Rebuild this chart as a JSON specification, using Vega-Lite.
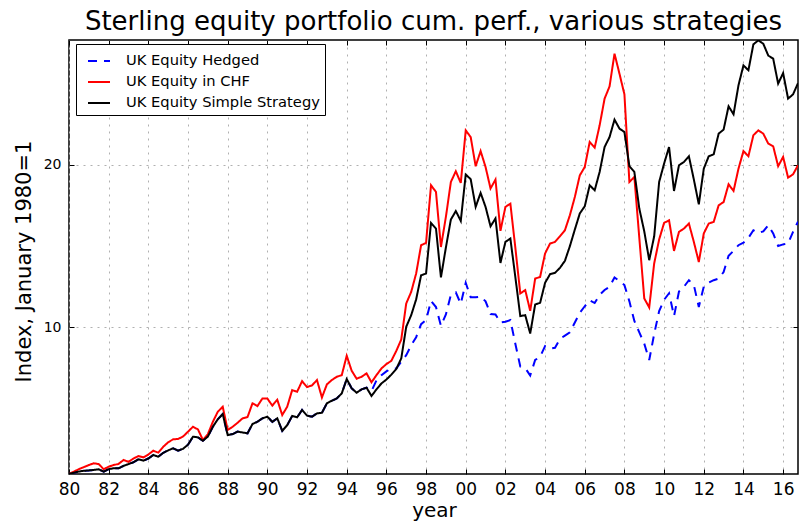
{
"$schema": "https://vega.github.io/schema/vega-lite/v6.json",
"width": 729, "height": 434,
"autosize": {"type": "none"},
"padding": {"left": 69, "top": 40, "right": 2, "bottom": 57},
"background": "white",
"title": {"text": "Sterling equity portfolio cum. perf., various strategies", "fontSize": 26, "fontWeight": "normal", "font": "DejaVu Sans", "color": "black", "anchor": "middle", "baseline": "alphabetic", "offset": 10, "dy": 26},
"config": {"view": {"stroke": "black", "strokeWidth": 1.5}, "font": "DejaVu Sans"},
"datasets": {"perf": [
{"t":1980,"s":"h","v":1.0},{"t":1980.25,"s":"h","v":1.08},{"t":1980.5,"s":"h","v":1.15},{"t":1980.75,"s":"h","v":1.2},
{"t":1981,"s":"h","v":1.22},{"t":1981.25,"s":"h","v":1.25},{"t":1981.5,"s":"h","v":1.29},{"t":1981.75,"s":"h","v":1.14},
{"t":1982,"s":"h","v":1.3},{"t":1982.25,"s":"h","v":1.35},{"t":1982.5,"s":"h","v":1.35},{"t":1982.75,"s":"h","v":1.5},
{"t":1983,"s":"h","v":1.61},{"t":1983.25,"s":"h","v":1.72},{"t":1983.5,"s":"h","v":1.9},{"t":1983.75,"s":"h","v":1.82},
{"t":1984,"s":"h","v":1.95},{"t":1984.25,"s":"h","v":2.17},{"t":1984.5,"s":"h","v":2.06},{"t":1984.75,"s":"h","v":2.3},
{"t":1985,"s":"h","v":2.45},{"t":1985.25,"s":"h","v":2.58},{"t":1985.5,"s":"h","v":2.43},{"t":1985.75,"s":"h","v":2.55},
{"t":1986,"s":"h","v":2.8},{"t":1986.25,"s":"h","v":3.29},{"t":1986.5,"s":"h","v":3.25},{"t":1986.75,"s":"h","v":3.04},
{"t":1987,"s":"h","v":3.3},{"t":1987.25,"s":"h","v":3.9},{"t":1987.5,"s":"h","v":4.36},{"t":1987.75,"s":"h","v":4.68},
{"t":1988,"s":"h","v":3.39},{"t":1988.25,"s":"h","v":3.45},{"t":1988.5,"s":"h","v":3.6},{"t":1988.75,"s":"h","v":3.55},
{"t":1989,"s":"h","v":3.5},{"t":1989.25,"s":"h","v":4.07},{"t":1989.5,"s":"h","v":4.21},{"t":1989.75,"s":"h","v":4.42},
{"t":1990,"s":"h","v":4.52},{"t":1990.25,"s":"h","v":4.2},{"t":1990.5,"s":"h","v":4.42},{"t":1990.75,"s":"h","v":3.65},
{"t":1991,"s":"h","v":4.0},{"t":1991.25,"s":"h","v":4.56},{"t":1991.5,"s":"h","v":4.48},{"t":1991.75,"s":"h","v":4.93},
{"t":1992,"s":"h","v":4.58},{"t":1992.25,"s":"h","v":4.52},{"t":1992.5,"s":"h","v":4.72},{"t":1992.75,"s":"h","v":4.76},
{"t":1993,"s":"h","v":5.34},{"t":1993.25,"s":"h","v":5.5},{"t":1993.5,"s":"h","v":5.64},{"t":1993.75,"s":"h","v":5.95},
{"t":1994,"s":"h","v":6.83},{"t":1994.25,"s":"h","v":6.26},{"t":1994.5,"s":"h","v":5.99},{"t":1994.75,"s":"h","v":6.2},
{"t":1995,"s":"h","v":6.3},{"t":1995.25,"s":"h","v":6.1},{"t":1995.5,"s":"h","v":6.75},{"t":1995.75,"s":"h","v":7.07},
{"t":1996,"s":"h","v":7.3},{"t":1996.25,"s":"h","v":7.48},{"t":1996.5,"s":"h","v":7.48},{"t":1996.75,"s":"h","v":7.9},
{"t":1997,"s":"h","v":8.3},{"t":1997.25,"s":"h","v":8.9},{"t":1997.5,"s":"h","v":9.4},{"t":1997.75,"s":"h","v":10.2},
{"t":1998,"s":"h","v":10.45},{"t":1998.25,"s":"h","v":11.63},{"t":1998.5,"s":"h","v":11.25},{"t":1998.75,"s":"h","v":10.1},
{"t":1999,"s":"h","v":10.8},{"t":1999.25,"s":"h","v":12.0},{"t":1999.5,"s":"h","v":12.15},{"t":1999.75,"s":"h","v":11.45},
{"t":2000,"s":"h","v":12.74},{"t":2000.25,"s":"h","v":11.85},{"t":2000.5,"s":"h","v":11.85},{"t":2000.75,"s":"h","v":11.9},
{"t":2001,"s":"h","v":11.6},{"t":2001.25,"s":"h","v":10.82},{"t":2001.5,"s":"h","v":10.8},{"t":2001.75,"s":"h","v":10.3},
{"t":2002,"s":"h","v":10.35},{"t":2002.25,"s":"h","v":10.45},{"t":2002.5,"s":"h","v":9.0},{"t":2002.75,"s":"h","v":7.6},
{"t":2003,"s":"h","v":7.5},{"t":2003.25,"s":"h","v":7.05},{"t":2003.5,"s":"h","v":8.0},{"t":2003.75,"s":"h","v":8.2},
{"t":2004,"s":"h","v":8.85},{"t":2004.25,"s":"h","v":8.7},{"t":2004.5,"s":"h","v":8.75},{"t":2004.75,"s":"h","v":9.3},
{"t":2005,"s":"h","v":9.5},{"t":2005.25,"s":"h","v":9.7},{"t":2005.5,"s":"h","v":10.3},{"t":2005.75,"s":"h","v":10.9},
{"t":2006,"s":"h","v":11.3},{"t":2006.25,"s":"h","v":11.67},{"t":2006.5,"s":"h","v":11.5},{"t":2006.75,"s":"h","v":12.0},
{"t":2007,"s":"h","v":12.3},{"t":2007.25,"s":"h","v":12.5},{"t":2007.5,"s":"h","v":13.07},{"t":2007.75,"s":"h","v":12.85},
{"t":2008,"s":"h","v":12.6},{"t":2008.25,"s":"h","v":11.6},{"t":2008.5,"s":"h","v":10.4},{"t":2008.75,"s":"h","v":9.7},
{"t":2009,"s":"h","v":9.0},{"t":2009.25,"s":"h","v":8.0},{"t":2009.5,"s":"h","v":9.6},{"t":2009.75,"s":"h","v":11.0},
{"t":2010,"s":"h","v":11.7},{"t":2010.25,"s":"h","v":12.1},{"t":2010.5,"s":"h","v":10.7},{"t":2010.75,"s":"h","v":12.2},
{"t":2011,"s":"h","v":12.5},{"t":2011.25,"s":"h","v":12.9},{"t":2011.5,"s":"h","v":12.6},{"t":2011.75,"s":"h","v":11.26},
{"t":2012,"s":"h","v":12.5},{"t":2012.25,"s":"h","v":12.75},{"t":2012.5,"s":"h","v":12.9},{"t":2012.75,"s":"h","v":13.0},
{"t":2013,"s":"h","v":13.4},{"t":2013.25,"s":"h","v":14.4},{"t":2013.5,"s":"h","v":14.7},{"t":2013.75,"s":"h","v":15.05},
{"t":2014,"s":"h","v":15.2},{"t":2014.25,"s":"h","v":15.5},{"t":2014.5,"s":"h","v":15.97},{"t":2014.75,"s":"h","v":15.8},
{"t":2015,"s":"h","v":15.9},{"t":2015.25,"s":"h","v":16.28},{"t":2015.5,"s":"h","v":15.77},{"t":2015.75,"s":"h","v":15.0},
{"t":2016,"s":"h","v":15.1},{"t":2016.25,"s":"h","v":15.15},{"t":2016.5,"s":"h","v":15.87},{"t":2016.75,"s":"h","v":16.5},

{"t":1980,"s":"c","v":1.0},{"t":1980.25,"s":"c","v":1.15},{"t":1980.5,"s":"c","v":1.3},{"t":1980.75,"s":"c","v":1.42},
{"t":1981,"s":"c","v":1.55},{"t":1981.25,"s":"c","v":1.66},{"t":1981.5,"s":"c","v":1.61},{"t":1981.75,"s":"c","v":1.29},
{"t":1982,"s":"c","v":1.45},{"t":1982.25,"s":"c","v":1.55},{"t":1982.5,"s":"c","v":1.62},{"t":1982.75,"s":"c","v":1.86},
{"t":1983,"s":"c","v":1.75},{"t":1983.25,"s":"c","v":1.95},{"t":1983.5,"s":"c","v":2.1},{"t":1983.75,"s":"c","v":2.02},
{"t":1984,"s":"c","v":2.2},{"t":1984.25,"s":"c","v":2.43},{"t":1984.5,"s":"c","v":2.31},{"t":1984.75,"s":"c","v":2.67},
{"t":1985,"s":"c","v":2.95},{"t":1985.25,"s":"c","v":3.13},{"t":1985.5,"s":"c","v":3.15},{"t":1985.75,"s":"c","v":3.3},
{"t":1986,"s":"c","v":3.6},{"t":1986.25,"s":"c","v":3.9},{"t":1986.5,"s":"c","v":3.74},{"t":1986.75,"s":"c","v":3.09},
{"t":1987,"s":"c","v":3.45},{"t":1987.25,"s":"c","v":4.2},{"t":1987.5,"s":"c","v":4.82},{"t":1987.75,"s":"c","v":5.13},
{"t":1988,"s":"c","v":3.7},{"t":1988.25,"s":"c","v":3.9},{"t":1988.5,"s":"c","v":4.15},{"t":1988.75,"s":"c","v":4.42},
{"t":1989,"s":"c","v":4.5},{"t":1989.25,"s":"c","v":5.34},{"t":1989.5,"s":"c","v":5.17},{"t":1989.75,"s":"c","v":5.64},
{"t":1990,"s":"c","v":5.63},{"t":1990.25,"s":"c","v":5.2},{"t":1990.5,"s":"c","v":5.56},{"t":1990.75,"s":"c","v":4.62},
{"t":1991,"s":"c","v":5.13},{"t":1991.25,"s":"c","v":6.15},{"t":1991.5,"s":"c","v":6.05},{"t":1991.75,"s":"c","v":6.7},
{"t":1992,"s":"c","v":6.34},{"t":1992.25,"s":"c","v":6.44},{"t":1992.5,"s":"c","v":6.77},{"t":1992.75,"s":"c","v":5.7},
{"t":1993,"s":"c","v":6.5},{"t":1993.25,"s":"c","v":6.77},{"t":1993.5,"s":"c","v":6.97},{"t":1993.75,"s":"c","v":7.07},
{"t":1994,"s":"c","v":8.26},{"t":1994.25,"s":"c","v":7.34},{"t":1994.5,"s":"c","v":6.85},{"t":1994.75,"s":"c","v":6.97},
{"t":1995,"s":"c","v":7.18},{"t":1995.25,"s":"c","v":6.63},{"t":1995.5,"s":"c","v":7.07},{"t":1995.75,"s":"c","v":7.48},
{"t":1996,"s":"c","v":7.75},{"t":1996.25,"s":"c","v":7.95},{"t":1996.5,"s":"c","v":8.56},{"t":1996.75,"s":"c","v":9.26},
{"t":1997,"s":"c","v":11.47},{"t":1997.25,"s":"c","v":12.18},{"t":1997.5,"s":"c","v":13.31},{"t":1997.75,"s":"c","v":15.05},
{"t":1998,"s":"c","v":15.19},{"t":1998.25,"s":"c","v":18.73},{"t":1998.5,"s":"c","v":18.32},{"t":1998.75,"s":"c","v":14.94},
{"t":1999,"s":"c","v":16.79},{"t":1999.25,"s":"c","v":18.93},{"t":1999.5,"s":"c","v":19.59},{"t":1999.75,"s":"c","v":18.87},
{"t":2000,"s":"c","v":22.1},{"t":2000.25,"s":"c","v":21.69},{"t":2000.5,"s":"c","v":19.9},{"t":2000.75,"s":"c","v":20.83},
{"t":2001,"s":"c","v":19.85},{"t":2001.25,"s":"c","v":18.53},{"t":2001.5,"s":"c","v":19.08},{"t":2001.75,"s":"c","v":15.93},
{"t":2002,"s":"c","v":17.4},{"t":2002.25,"s":"c","v":17.6},{"t":2002.5,"s":"c","v":14.9},{"t":2002.75,"s":"c","v":12.09},
{"t":2003,"s":"c","v":12.29},{"t":2003.25,"s":"c","v":11.02},{"t":2003.5,"s":"c","v":13.0},{"t":2003.75,"s":"c","v":13.1},
{"t":2004,"s":"c","v":14.54},{"t":2004.25,"s":"c","v":15.15},{"t":2004.5,"s":"c","v":15.25},{"t":2004.75,"s":"c","v":15.6},
{"t":2005,"s":"c","v":15.97},{"t":2005.25,"s":"c","v":16.89},{"t":2005.5,"s":"c","v":18.01},{"t":2005.75,"s":"c","v":19.34},
{"t":2006,"s":"c","v":19.85},{"t":2006.25,"s":"c","v":21.39},{"t":2006.5,"s":"c","v":21.04},{"t":2006.75,"s":"c","v":22.41},
{"t":2007,"s":"c","v":24.05},{"t":2007.25,"s":"c","v":24.8},{"t":2007.5,"s":"c","v":26.81},{"t":2007.75,"s":"c","v":25.58},
{"t":2008,"s":"c","v":24.31},{"t":2008.25,"s":"c","v":18.93},{"t":2008.5,"s":"c","v":19.24},{"t":2008.75,"s":"c","v":15.5},
{"t":2009,"s":"c","v":11.78},{"t":2009.25,"s":"c","v":11.23},{"t":2009.5,"s":"c","v":13.93},{"t":2009.75,"s":"c","v":15.4},
{"t":2010,"s":"c","v":16.42},{"t":2010.25,"s":"c","v":16.58},{"t":2010.5,"s":"c","v":14.7},{"t":2010.75,"s":"c","v":15.87},
{"t":2011,"s":"c","v":16.07},{"t":2011.25,"s":"c","v":16.38},{"t":2011.5,"s":"c","v":15.25},{"t":2011.75,"s":"c","v":14.02},
{"t":2012,"s":"c","v":15.77},{"t":2012.25,"s":"c","v":16.38},{"t":2012.5,"s":"c","v":16.48},{"t":2012.75,"s":"c","v":17.5},
{"t":2013,"s":"c","v":17.7},{"t":2013.25,"s":"c","v":18.79},{"t":2013.5,"s":"c","v":18.38},{"t":2013.75,"s":"c","v":19.75},
{"t":2014,"s":"c","v":20.83},{"t":2014.25,"s":"c","v":20.51},{"t":2014.5,"s":"c","v":21.8},{"t":2014.75,"s":"c","v":22.1},
{"t":2015,"s":"c","v":21.9},{"t":2015.25,"s":"c","v":21.29},{"t":2015.5,"s":"c","v":21.12},{"t":2015.75,"s":"c","v":19.9},
{"t":2016,"s":"c","v":20.47},{"t":2016.25,"s":"c","v":19.2},{"t":2016.5,"s":"c","v":19.4},{"t":2016.75,"s":"c","v":19.96},

{"t":1980,"s":"s","v":1.0},{"t":1980.25,"s":"s","v":1.08},{"t":1980.5,"s":"s","v":1.15},{"t":1980.75,"s":"s","v":1.2},
{"t":1981,"s":"s","v":1.22},{"t":1981.25,"s":"s","v":1.25},{"t":1981.5,"s":"s","v":1.29},{"t":1981.75,"s":"s","v":1.14},
{"t":1982,"s":"s","v":1.3},{"t":1982.25,"s":"s","v":1.35},{"t":1982.5,"s":"s","v":1.35},{"t":1982.75,"s":"s","v":1.5},
{"t":1983,"s":"s","v":1.61},{"t":1983.25,"s":"s","v":1.72},{"t":1983.5,"s":"s","v":1.9},{"t":1983.75,"s":"s","v":1.82},
{"t":1984,"s":"s","v":1.95},{"t":1984.25,"s":"s","v":2.17},{"t":1984.5,"s":"s","v":2.06},{"t":1984.75,"s":"s","v":2.3},
{"t":1985,"s":"s","v":2.45},{"t":1985.25,"s":"s","v":2.58},{"t":1985.5,"s":"s","v":2.43},{"t":1985.75,"s":"s","v":2.55},
{"t":1986,"s":"s","v":2.8},{"t":1986.25,"s":"s","v":3.29},{"t":1986.5,"s":"s","v":3.25},{"t":1986.75,"s":"s","v":3.04},
{"t":1987,"s":"s","v":3.3},{"t":1987.25,"s":"s","v":3.9},{"t":1987.5,"s":"s","v":4.36},{"t":1987.75,"s":"s","v":4.68},
{"t":1988,"s":"s","v":3.39},{"t":1988.25,"s":"s","v":3.45},{"t":1988.5,"s":"s","v":3.6},{"t":1988.75,"s":"s","v":3.55},
{"t":1989,"s":"s","v":3.5},{"t":1989.25,"s":"s","v":4.07},{"t":1989.5,"s":"s","v":4.21},{"t":1989.75,"s":"s","v":4.42},
{"t":1990,"s":"s","v":4.52},{"t":1990.25,"s":"s","v":4.2},{"t":1990.5,"s":"s","v":4.42},{"t":1990.75,"s":"s","v":3.65},
{"t":1991,"s":"s","v":4.0},{"t":1991.25,"s":"s","v":4.56},{"t":1991.5,"s":"s","v":4.48},{"t":1991.75,"s":"s","v":4.93},
{"t":1992,"s":"s","v":4.58},{"t":1992.25,"s":"s","v":4.52},{"t":1992.5,"s":"s","v":4.72},{"t":1992.75,"s":"s","v":4.76},
{"t":1993,"s":"s","v":5.34},{"t":1993.25,"s":"s","v":5.5},{"t":1993.5,"s":"s","v":5.64},{"t":1993.75,"s":"s","v":5.95},
{"t":1994,"s":"s","v":6.83},{"t":1994.25,"s":"s","v":6.26},{"t":1994.5,"s":"s","v":5.99},{"t":1994.75,"s":"s","v":6.2},
{"t":1995,"s":"s","v":6.3},{"t":1995.25,"s":"s","v":5.79},{"t":1995.5,"s":"s","v":6.2},{"t":1995.75,"s":"s","v":6.56},
{"t":1996,"s":"s","v":6.8},{"t":1996.25,"s":"s","v":7.1},{"t":1996.5,"s":"s","v":7.45},{"t":1996.75,"s":"s","v":8.1},
{"t":1997,"s":"s","v":10.04},{"t":1997.25,"s":"s","v":10.75},{"t":1997.5,"s":"s","v":11.72},{"t":1997.75,"s":"s","v":13.2},
{"t":1998,"s":"s","v":13.31},{"t":1998.25,"s":"s","v":16.42},{"t":1998.5,"s":"s","v":16.07},{"t":1998.75,"s":"s","v":13.07},
{"t":1999,"s":"s","v":14.91},{"t":1999.25,"s":"s","v":16.62},{"t":1999.5,"s":"s","v":17.15},{"t":1999.75,"s":"s","v":16.54},
{"t":2000,"s":"s","v":19.39},{"t":2000.25,"s":"s","v":19.1},{"t":2000.5,"s":"s","v":17.4},{"t":2000.75,"s":"s","v":18.26},
{"t":2001,"s":"s","v":17.4},{"t":2001.25,"s":"s","v":16.21},{"t":2001.5,"s":"s","v":16.69},{"t":2001.75,"s":"s","v":13.96},
{"t":2002,"s":"s","v":15.25},{"t":2002.25,"s":"s","v":15.46},{"t":2002.5,"s":"s","v":13.1},{"t":2002.75,"s":"s","v":10.7},
{"t":2003,"s":"s","v":10.75},{"t":2003.25,"s":"s","v":9.63},{"t":2003.5,"s":"s","v":11.41},{"t":2003.75,"s":"s","v":11.51},
{"t":2004,"s":"s","v":12.74},{"t":2004.25,"s":"s","v":13.27},{"t":2004.5,"s":"s","v":13.35},{"t":2004.75,"s":"s","v":13.66},
{"t":2005,"s":"s","v":14.09},{"t":2005.25,"s":"s","v":14.99},{"t":2005.5,"s":"s","v":16.01},{"t":2005.75,"s":"s","v":17.0},
{"t":2006,"s":"s","v":17.44},{"t":2006.25,"s":"s","v":18.73},{"t":2006.5,"s":"s","v":18.42},{"t":2006.75,"s":"s","v":19.55},
{"t":2007,"s":"s","v":21.08},{"t":2007.25,"s":"s","v":21.69},{"t":2007.5,"s":"s","v":22.76},{"t":2007.75,"s":"s","v":22.21},
{"t":2008,"s":"s","v":22.0},{"t":2008.25,"s":"s","v":19.9},{"t":2008.5,"s":"s","v":19.55},{"t":2008.75,"s":"s","v":17.3},
{"t":2009,"s":"s","v":15.9},{"t":2009.25,"s":"s","v":14.13},{"t":2009.5,"s":"s","v":15.6},{"t":2009.75,"s":"s","v":18.93},
{"t":2010,"s":"s","v":20.06},{"t":2010.25,"s":"s","v":21.08},{"t":2010.5,"s":"s","v":18.38},{"t":2010.75,"s":"s","v":19.96},
{"t":2011,"s":"s","v":20.16},{"t":2011.25,"s":"s","v":20.51},{"t":2011.5,"s":"s","v":19.08},{"t":2011.75,"s":"s","v":17.56},
{"t":2012,"s":"s","v":19.75},{"t":2012.25,"s":"s","v":20.51},{"t":2012.5,"s":"s","v":20.63},{"t":2012.75,"s":"s","v":21.9},
{"t":2013,"s":"s","v":22.15},{"t":2013.25,"s":"s","v":23.58},{"t":2013.5,"s":"s","v":23.09},{"t":2013.75,"s":"s","v":24.87},
{"t":2014,"s":"s","v":26.09},{"t":2014.25,"s":"s","v":25.79},{"t":2014.5,"s":"s","v":27.38},{"t":2014.75,"s":"s","v":27.63},
{"t":2015,"s":"s","v":27.42},{"t":2015.25,"s":"s","v":26.7},{"t":2015.5,"s":"s","v":26.5},{"t":2015.75,"s":"s","v":24.97},
{"t":2016,"s":"s","v":25.62},{"t":2016.25,"s":"s","v":24.05},{"t":2016.5,"s":"s","v":24.31},{"t":2016.75,"s":"s","v":25.0}
]},
"data": {"name": "perf"},
"resolve": {"axis": {"x": "independent", "y": "independent"}},
"layer": [
{
"mark": {"type": "line", "strokeWidth": 2, "clip": true},
"encoding": {
"x": {"field": "t", "type": "quantitative",
 "scale": {"domain": [1980, 2016.75], "nice": false, "zero": false},
 "axis": {"orient": "bottom", "values": [1980,1982,1984,1986,1988,1990,1992,1994,1996,1998,2000,2002,2004,2006,2008,2010,2012,2014,2016],
  "labelExpr": "substring(toString(datum.value), 2, 4)", "labelFlush": false, "labelOverlap": false,
  "labelFontSize": 17, "labelFont": "DejaVu Sans", "labelColor": "black", "labelBaseline": "alphabetic", "labelPadding": 25,
  "tickSize": -5, "tickColor": "black", "tickWidth": 1, "domain": false,
  "grid": true, "gridColor": "#b0b0b0", "gridDash": [2, 5], "gridWidth": 1,
  "title": "year", "titleFontSize": 20, "titleFont": "DejaVu Sans", "titleFontWeight": "normal", "titleColor": "black",
  "titleBaseline": "alphabetic", "titleX": 365, "titleY": 42, "titleAlign": "center"}},
"y": {"field": "v", "type": "quantitative",
 "scale": {"domain": [1, 27.65], "nice": false, "zero": false},
 "axis": {"orient": "left", "values": [10, 20],
  "labelFontSize": 14, "labelFont": "DejaVu Sans", "labelColor": "black", "labelPadding": 13, "labelBaseline": "middle",
  "tickSize": -5, "tickColor": "black", "tickWidth": 1, "domain": false,
  "grid": true, "gridColor": "#b0b0b0", "gridDash": [2, 5], "gridWidth": 1,
  "title": "Index, January 1980=1", "titleFontSize": 21, "titleFont": "DejaVu Sans", "titleFontWeight": "normal", "titleColor": "black",
  "titleBaseline": "alphabetic", "titleAngle": 270, "titleX": -39, "titleY": 221, "titleAlign": "center"}},
"color": {"field": "s", "type": "nominal",
 "scale": {"domain": ["h", "c", "s"], "range": ["#0000ff", "#ff0000", "#000000"]},
 "legend": {"orient": "none", "legendX": 7, "legendY": 4, "title": null,
  "labelExpr": "datum.value == 'h' ? 'UK Equity Hedged' : datum.value == 'c' ? 'UK Equity in CHF' : 'UK Equity Simple Strategy'",
  "symbolType": "stroke", "symbolSize": 484, "symbolStrokeWidth": 2, "symbolOffset": 6,
  "labelFontSize": 14.7, "labelFont": "DejaVu Sans", "labelColor": "black", "labelLimit": 400,
  "strokeColor": "black", "fillColor": "white", "padding": 5, "rowPadding": 2, "labelOffset": 15, "cornerRadius": 0}},
"strokeDash": {"field": "s", "type": "nominal",
 "scale": {"domain": ["h", "c", "s"], "range": [[9, 7], [1, 0], [1, 0]]},
 "legend": {"orient": "none", "legendX": 7, "legendY": 4, "title": null,
  "labelExpr": "datum.value == 'h' ? 'UK Equity Hedged' : datum.value == 'c' ? 'UK Equity in CHF' : 'UK Equity Simple Strategy'",
  "symbolType": "stroke", "symbolSize": 484, "symbolStrokeWidth": 2, "symbolOffset": 6,
  "labelFontSize": 14.7, "labelFont": "DejaVu Sans", "labelColor": "black", "labelLimit": 400,
  "strokeColor": "black", "fillColor": "white", "padding": 5, "rowPadding": 2, "labelOffset": 15, "cornerRadius": 0}}
}
},
{
"mark": {"type": "line", "opacity": 0},
"encoding": {
"x": {"field": "t", "type": "quantitative",
 "axis": {"orient": "top", "values": [1980,1982,1984,1986,1988,1990,1992,1994,1996,1998,2000,2002,2004,2006,2008,2010,2012,2014,2016],
  "labels": false, "title": null, "grid": false, "domain": false, "tickSize": -5, "tickColor": "black", "tickWidth": 1}},
"y": {"field": "v", "type": "quantitative",
 "axis": {"orient": "right", "values": [10, 20],
  "labels": false, "title": null, "grid": false, "domain": false, "tickSize": -5, "tickColor": "black", "tickWidth": 1}},
"detail": {"field": "s", "type": "nominal"}
}
}
]
}
